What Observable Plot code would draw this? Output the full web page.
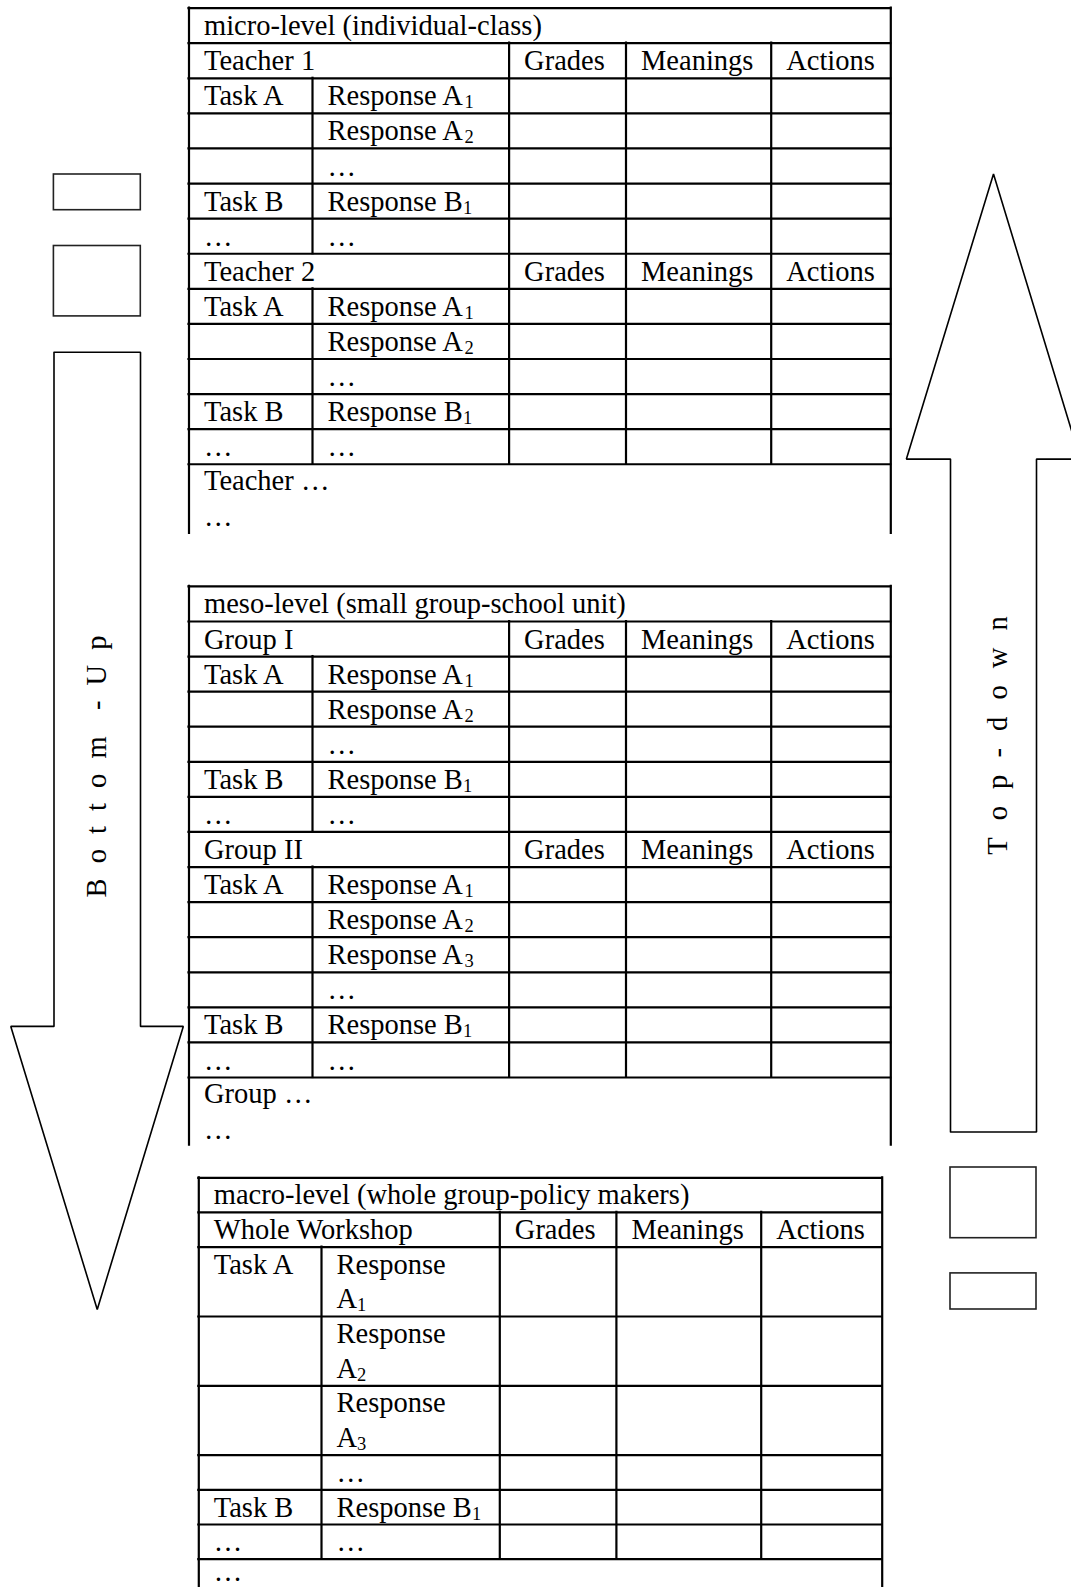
<!DOCTYPE html>
<html>
<head>
<meta charset="utf-8">
<script src="https://cdn.jsdelivr.net/npm/d3@7"></script>
<script src="https://cdn.jsdelivr.net/npm/@observablehq/plot@0.6"></script>
<style>
  html, body { margin: 0; padding: 0; background: #fff; overflow: hidden; }
  #chart svg { display: block; }
</style>
</head>
<body>
<div id="chart"></div>
<script>
// ---------------- DATA ----------------
const levelTitles = [
  "micro-level (individual-class)",
  "meso-level (small group-school unit)",
  "macro-level (whole group-policy makers)"
];
const columnHeaders = ["Grades", "Meanings", "Actions"];

// [kind, task label, response label (or lines), subscript]
const microRows = [
  ["unit", "Teacher 1"],
  ["task", "Task A", "Response A", "1"],
  ["task", "", "Response A", "2"],
  ["task", "", "…"],
  ["task", "Task B", "Response B", "1"],
  ["task", "…", "…"],
  ["unit", "Teacher 2"],
  ["task", "Task A", "Response A", "1"],
  ["task", "", "Response A", "2"],
  ["task", "", "…"],
  ["task", "Task B", "Response B", "1"],
  ["task", "…", "…"],
  ["tail", "Teacher …", "…"]
];
const mesoRows = [
  ["unit", "Group I"],
  ["task", "Task A", "Response A", "1"],
  ["task", "", "Response A", "2"],
  ["task", "", "…"],
  ["task", "Task B", "Response B", "1"],
  ["task", "…", "…"],
  ["unit", "Group II"],
  ["task", "Task A", "Response A", "1"],
  ["task", "", "Response A", "2"],
  ["task", "", "Response A", "3"],
  ["task", "", "…"],
  ["task", "Task B", "Response B", "1"],
  ["task", "…", "…"],
  ["tail", "Group …", "…"]
];
const macroRows = [
  ["unit", "Whole Workshop"],
  ["task", "Task A", ["Response", "A"], "1"],
  ["task", "", ["Response", "A"], "2"],
  ["task", "", ["Response", "A"], "3"],
  ["task", "", "…"],
  ["task", "Task B", "Response B", "1"],
  ["task", "…", "…"],
  ["tail", "…"]
];
const arrowLabels = ["B o t t o m  - U p", "T o p - d o w n"];

// ---------------- LAYOUT ----------------
const W = 1071, H = 1587;
const FONT = '"Liberation Serif", "Times New Roman", serif';
const FS = 28.5, SUB_FS = 18.5, SUB_DY = 3, PAD = 15, BASE = 8, TAIL_BASE = 9.5, TAIL_GAP = 36;
const TABLE_SW = 2.2, SHAPE_SW = 1.6;

const tables = [
  {title: levelTitles[0], rows: microRows, top: 7.6, unit: 35.09,
   cols: [188.5, 312, 508.6, 625.5, 770.7, 890.3], cut: 532.8},
  {title: levelTitles[1], rows: mesoRows, top: 585.9, unit: 35.08,
   cols: [188.5, 312, 508.6, 625.5, 770.7, 890.3], cut: 1144.6},
  {title: levelTitles[2], rows: macroRows, top: 1177.3, unit: 34.67,
   cols: [198.3, 321, 499.3, 615.9, 760.7, 881.7], cut: H + 5, tailMax: 1580}
];

const arrows = [
  {id: "down", x1: 53.5, x2: 140, end: 351.7, headY: 1025.9, headX1: 10.3, headX2: 182.8, tip: 1309,
   label: arrowLabels[0], labelX: 105, labelY: 764, spacing: 4},
  {id: "up", x1: 950, x2: 1036, end: 1131.5, headY: 458.6, headX1: 905.9, headX2: 1079.7, tip: 173.4,
   label: arrowLabels[1], labelX: 1006, labelY: 732.5, spacing: 5}
];

const boxes = [
  {x1: 53.4, x2: 140.3, y1: 174, y2: 209.7},
  {x1: 53.4, x2: 140.3, y1: 245.5, y2: 315.9},
  {x1: 950, x2: 1036, y1: 1167, y2: 1237.7},
  {x1: 950, x2: 1036, y1: 1272.9, y2: 1309}
];

// ---------------- BUILD ----------------
const ctx = document.createElement("canvas").getContext("2d");
ctx.font = `${FS}px ${FONT}`;
const measure = s => ctx.measureText(s).width;

const hRules = [], vRules = [], texts = [], subs = [];
function addText(x, y, text, sub) {
  texts.push({x, y, text});
  if (sub) subs.push({x: x + measure(text), y: y + SUB_DY, text: sub});
}

for (const t of tables) {
  const [c0, c1, c2, c3, c4, c5] = t.cols;
  let y = t.top;
  hRules.push({y, x1: c0, x2: c5});
  addText(c0 + PAD, y + t.unit - BASE, t.title);
  y += t.unit;
  const innerTop = y;
  let taskStart = null;
  const closeTask = () => { if (taskStart !== null) { vRules.push({x: c1, y1: taskStart, y2: y}); taskStart = null; } };
  for (const row of t.rows) {
    const [kind, a, b, sub] = row;
    hRules.push({y, x1: c0, x2: c5});
    if (kind === "tail") {
      closeTask();
      for (const cx of [c2, c3, c4]) vRules.push({x: cx, y1: innerTop, y2: y});
      [a, b].filter(d => d).forEach((s, i) => {
        let yy = y + t.unit - TAIL_BASE + i * TAIL_GAP;
        if (t.tailMax) yy = Math.min(yy, t.tailMax);
        addText(c0 + PAD, yy, s);
      });
    } else if (kind === "unit") {
      closeTask();
      addText(c0 + PAD, y + t.unit - BASE, a);
      columnHeaders.forEach((h, i) => addText(t.cols[2 + i] + PAD, y + t.unit - BASE, h));
      y += t.unit;
    } else {
      if (taskStart === null) taskStart = y;
      const lines = Array.isArray(b) ? b : [b];
      if (a) addText(c0 + PAD, y + t.unit - BASE, a);
      lines.forEach((s, i) => addText(c1 + PAD, y + (i + 1) * t.unit - BASE, s, i === lines.length - 1 ? sub : null));
      y += lines.length * t.unit;
    }
  }
  vRules.push({x: c0, y1: t.top, y2: t.cut}, {x: c5, y1: t.top, y2: t.cut});
}

const arrowPts = [];
for (const a of arrows) {
  const cx = (a.x1 + a.x2) / 2;
  const pts = a.id === "down"
    ? [[a.x1, a.end], [a.x2, a.end], [a.x2, a.headY], [a.headX2, a.headY], [cx, a.tip], [a.headX1, a.headY], [a.x1, a.headY], [a.x1, a.end]]
    : [[a.x1, a.end], [a.x1, a.headY], [a.headX1, a.headY], [cx, a.tip], [a.headX2, a.headY], [a.x2, a.headY], [a.x2, a.end], [a.x1, a.end]];
  pts.forEach(([x, y]) => arrowPts.push({id: a.id, x, y}));
}

const arrowText = arrows.map(a => a.label.replace(/ /g, "\u00A0"));

const svg = Plot.plot({
  width: W, height: H, margin: 0,
  x: {domain: [0, W], range: [0, W], axis: null},
  y: {domain: [0, H], range: [0, H], axis: null},
  style: {background: "white", fontFamily: FONT, color: "black"},
  marks: [
    Plot.line(arrowPts, {x: "x", y: "y", z: "id", stroke: "black", strokeWidth: SHAPE_SW, strokeLinejoin: "miter"}),
    Plot.rect(boxes, {x1: "x1", x2: "x2", y1: "y1", y2: "y2", fill: "none", stroke: "#222", strokeWidth: SHAPE_SW}),
    Plot.ruleY(hRules, {y: "y", x1: "x1", x2: "x2", stroke: "black", strokeWidth: TABLE_SW, strokeLinecap: "square"}),
    Plot.ruleX(vRules, {x: "x", y1: "y1", y2: "y2", stroke: "black", strokeWidth: TABLE_SW, strokeLinecap: "square"}),
    Plot.text(texts, {x: "x", y: "y", text: "text", textAnchor: "start", lineAnchor: "bottom",
      fontSize: FS, fontFamily: FONT, fill: "black"}),
    Plot.text(subs, {x: "x", y: "y", text: "text", textAnchor: "start", lineAnchor: "bottom",
      fontSize: SUB_FS, fontFamily: FONT, fill: "black"}),
    Plot.text(arrows, {x: "labelX", y: "labelY", text: (d, i) => arrowText[i],
      rotate: -90, textAnchor: "middle", lineAnchor: "bottom",
      fontSize: FS, fontFamily: FONT, fill: "black"})
  ]
});

d3.select(svg).selectAll("text").each(function () {
  const i = arrowText.indexOf(this.textContent);
  if (i >= 0) this.setAttribute("letter-spacing", arrows[i].spacing);
});

document.getElementById("chart").appendChild(svg);
</script>
</body>
</html>
